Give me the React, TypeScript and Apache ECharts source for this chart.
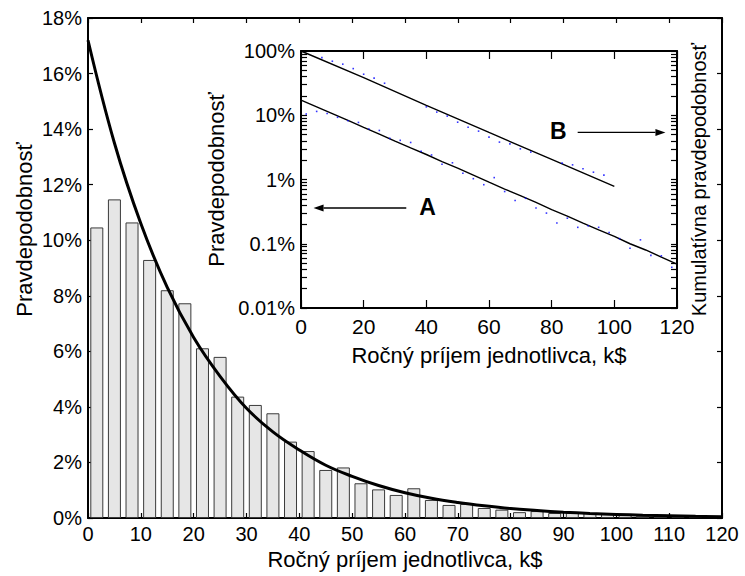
import React, { useEffect, useRef } from 'react';
import * as echarts from 'echarts';

const FONT = "'Liberation Sans', Arial, Helvetica, sans-serif";

// ---- data ----
const BIN_WIDTH = 10 / 3; // k$ per histogram bin
const barValues = [
  10.46, 11.47, 10.64, 9.29, 8.2, 7.73, 6.11, 5.8, 4.37, 4.07, 3.77, 2.75,
  2.41, 1.73, 1.82, 1.25, 1.03, 0.83, 1.07, 0.65, 0.47, 0.51, 0.36, 0.3,
  0.21, 0.25, 0.18, 0.19, 0.18, 0.15, 0.12, 0.085, 0.115, 0.066, 0.065, 0.043,
];

const curveX = [0, 5, 10, 15, 20, 25, 30, 35, 40, 45, 50, 55, 60, 65, 70, 75, 80, 85, 90, 95, 100, 105, 110, 115, 120];
const curveY = [17.2, 13.5, 10.6, 8.3, 6.5, 5.1, 3.95, 3.1, 2.45, 1.9, 1.5, 1.17, 0.91, 0.71, 0.56, 0.44, 0.34, 0.27, 0.21, 0.165, 0.13, 0.1, 0.08, 0.062, 0.048];

const cumX = [0, 20, 40, 60, 80, 100];
const cumY = [100, 38.5, 14.3, 5.4, 2.05, 0.78];

const cumDotX = [6.67, 10, 13.33, 16.67, 20, 23.33, 26.67, 40, 43.33, 46.67, 50, 53.33, 56.67, 60, 63.33, 66.67, 70, 73.33, 83.33, 86.67, 90, 93.33, 96.67];
const cumDotY = [78.9, 69.3, 62.4, 53.2, 43.5, 37.8, 31.5, 13.5, 11.2, 9.7, 7.8, 6.5, 5.66, 4.56, 3.82, 3.59, 3.0, 2.67, 1.8, 1.69, 1.47, 1.3, 1.17];

const insetYLabels = ['0.01%', '0.1%', '1%', '10%', '100%'];
const insetLogMin = -2; // log10 of 0.01 %
const insetLogMax = 2; // log10 of 100 %

const annotations = [
  { label: 'A', fromX: 33.6, toX: 4.0, y: 0.36, side: 'right' },
  { label: 'B', fromX: 88.3, toX: 116.3, y: 5.4, side: 'left' },
];

const mainTitleX = 'Ročný príjem jednotlivca, k$';
const mainTitleY = 'Pravdepodobnosť';
const insetTitleRight = 'Kumulatívna pravdepodobnosť';

export default function App() {
  const ref = useRef<HTMLDivElement>(null);

  useEffect(() => {
    document.body.style.margin = '0';
    const chart = echarts.init(ref.current!, null, { renderer: 'svg' });

    const axisLine = { show: true, onZero: false, lineStyle: { color: '#000', width: 2 } };
    const tickIn = (len: number, extra: any = {}) => ({
      show: true,
      inside: true,
      length: len,
      lineStyle: { color: '#000', width: 1.2 },
      ...extra,
    });
    const noLabel = { show: false };
    const noSplit = { show: false };

    // log-decade ticks (major + 2..9 minors) in log10 space
    const allTicks: number[] = [];
    for (let e = insetLogMin; e < insetLogMax; e++) {
      allTicks.push(e);
      for (let k = 2; k <= 9; k++) allTicks.push(e + Math.log10(k));
    }
    allTicks.push(insetLogMax);

    const log = (v: number) => Math.log10(v);

    const option: any = {
      animation: false,
      backgroundColor: '#fff',
      textStyle: { fontFamily: FONT, color: '#000' },
      grid: [
        { left: 88, right: 23, top: 18, bottom: 58, outerBoundsMode: 'none' },
        {
          left: 301, right: 68, top: 51, bottom: 268,
          show: true, backgroundColor: '#fff', borderWidth: 0, outerBoundsMode: 'none',
        },
      ],
      xAxis: [
        {
          type: 'value', gridIndex: 0, position: 'bottom', min: 0, max: 120, interval: 10,
          axisLine, axisTick: tickIn(5), splitLine: noSplit,
          axisLabel: { fontSize: 20, margin: 6, color: '#000', fontFamily: FONT },
          name: mainTitleX, nameLocation: 'middle', nameGap: 27,
          nameTextStyle: { fontSize: 22, color: '#000', fontFamily: FONT },
        },
        {
          type: 'value', gridIndex: 0, position: 'top', min: 0, max: 120, interval: 10,
          axisLine, axisTick: tickIn(5), splitLine: noSplit, axisLabel: noLabel,
        },
        {
          type: 'value', gridIndex: 1, position: 'bottom', min: 0, max: 120, interval: 20,
          axisLine, axisTick: tickIn(8), splitLine: noSplit,
          axisLabel: { fontSize: 21, margin: 8, color: '#000', fontFamily: FONT },
          name: mainTitleX, nameLocation: 'middle', nameGap: 36,
          nameTextStyle: { fontSize: 22, color: '#000', fontFamily: FONT },
        },
        {
          type: 'value', gridIndex: 1, position: 'top', min: 0, max: 120, interval: 20,
          axisLine, axisTick: tickIn(8), splitLine: noSplit, axisLabel: noLabel,
        },
      ],
      yAxis: [
        {
          type: 'value', gridIndex: 0, position: 'left', min: 0, max: 18, interval: 2,
          axisLine, axisTick: tickIn(5), splitLine: noSplit,
          axisLabel: { fontSize: 20, margin: 6, color: '#000', formatter: '{value}%', fontFamily: FONT },
        },
        {
          type: 'value', gridIndex: 0, position: 'right', min: 0, max: 18, interval: 2,
          axisLine, axisTick: tickIn(5), splitLine: noSplit, axisLabel: noLabel,
        },
        {
          type: 'value', gridIndex: 1, position: 'left', min: insetLogMin, max: insetLogMax, interval: 1,
          axisLine, axisTick: tickIn(6, { customValues: allTicks }), splitLine: noSplit,
          axisLabel: {
            fontSize: 20, margin: 6, color: '#000', fontFamily: FONT,
            formatter: (v: number) => insetYLabels[Math.round(v - insetLogMin)] ?? '',
          },
          name: mainTitleY, nameLocation: 'middle', nameGap: 66,
          nameTextStyle: { fontSize: 22, color: '#000', fontFamily: FONT },
        },
        {
          type: 'value', gridIndex: 1, position: 'right', min: insetLogMin, max: insetLogMax, interval: 1,
          axisLine, axisTick: tickIn(6, { customValues: allTicks }), splitLine: noSplit, axisLabel: noLabel,
          name: insetTitleRight, nameLocation: 'middle', nameGap: 12,
          nameTextStyle: { fontSize: 20, color: '#000', fontFamily: FONT },
        },
      ],
      series: [
        {
          type: 'bar', xAxisIndex: 0, yAxisIndex: 0, barWidth: 13,
          data: barValues.map((v, i) => [(i + 0.5) * BIN_WIDTH, v]),
          itemStyle: { color: '#e6e6e6', borderColor: '#3a3a3a', borderWidth: 1 },
        },
        {
          type: 'line', xAxisIndex: 0, yAxisIndex: 0, smooth: 0.4,
          symbol: 'none', data: curveX.map((x, i) => [x, curveY[i]]),
          lineStyle: { color: '#000', width: 3 }, z: 5,
        },
        {
          type: 'line', xAxisIndex: 2, yAxisIndex: 2, symbol: 'none',
          data: curveX.map((x, i) => [x, log(curveY[i])]),
          lineStyle: { color: '#000', width: 1.4 },
        },
        {
          type: 'line', xAxisIndex: 2, yAxisIndex: 2, symbol: 'none',
          data: cumX.map((x, i) => [x, log(cumY[i])]),
          lineStyle: { color: '#000', width: 1.4 },
        },
        {
          type: 'scatter', xAxisIndex: 2, yAxisIndex: 2, symbol: 'rect', symbolSize: 1.6,
          data: barValues.map((v, i) => [(i + 0.5) * BIN_WIDTH, log(v)]),
          itemStyle: { color: '#0000ff' }, z: 6,
        },
        {
          type: 'scatter', xAxisIndex: 2, yAxisIndex: 2, symbol: 'rect', symbolSize: 1.6,
          data: cumDotX.map((x, i) => [x, log(cumDotY[i])]),
          itemStyle: { color: '#0000ff' }, z: 6,
        },
      ],
    };

    chart.setOption(option);

    // annotations positioned through the inset's own scales
    const toPx = (x: number, pct: number) =>
      chart.convertToPixel({ xAxisIndex: 2, yAxisIndex: 2 } as any, [x, log(pct)]) as number[];
    const graphics: any[] = [
      {
        type: 'text', x: 24, y: 229.5, rotation: Math.PI / 2,
        style: {
          text: mainTitleY, fontSize: 22, fontFamily: FONT, fill: '#000',
          align: 'center', verticalAlign: 'middle',
        },
      },
    ];
    annotations.forEach((a) => {
      const p0 = toPx(a.fromX, a.y);
      const p1 = toPx(a.toX, a.y);
      const dir = p1[0] > p0[0] ? 1 : -1;
      const head = 10;
      graphics.push({
        type: 'line',
        shape: { x1: p0[0], y1: p0[1], x2: p1[0] - dir * head, y2: p1[1] },
        style: { stroke: '#000', lineWidth: 1.3 },
      });
      graphics.push({
        type: 'polygon',
        shape: {
          points: [
            [p1[0], p1[1]],
            [p1[0] - dir * head, p1[1] - 3.5],
            [p1[0] - dir * head, p1[1] + 3.5],
          ],
        },
        style: { fill: '#000' },
      });
      graphics.push({
        type: 'text',
        x: a.side === 'right' ? p0[0] + 13 : p0[0] - 11,
        y: p0[1] - 1.5,
        style: {
          text: a.label, fontSize: 23, fontWeight: 'bold', fontFamily: FONT, fill: '#000',
          align: a.side === 'right' ? 'left' : 'right', verticalAlign: 'middle',
        },
      });
    });
    chart.setOption({ graphic: graphics });

    return () => chart.dispose();
  }, []);

  return (
    <div
      ref={ref}
      style={{ position: 'fixed', left: 0, top: 0, width: 745, height: 576, background: '#fff' }}
    />
  );
}
